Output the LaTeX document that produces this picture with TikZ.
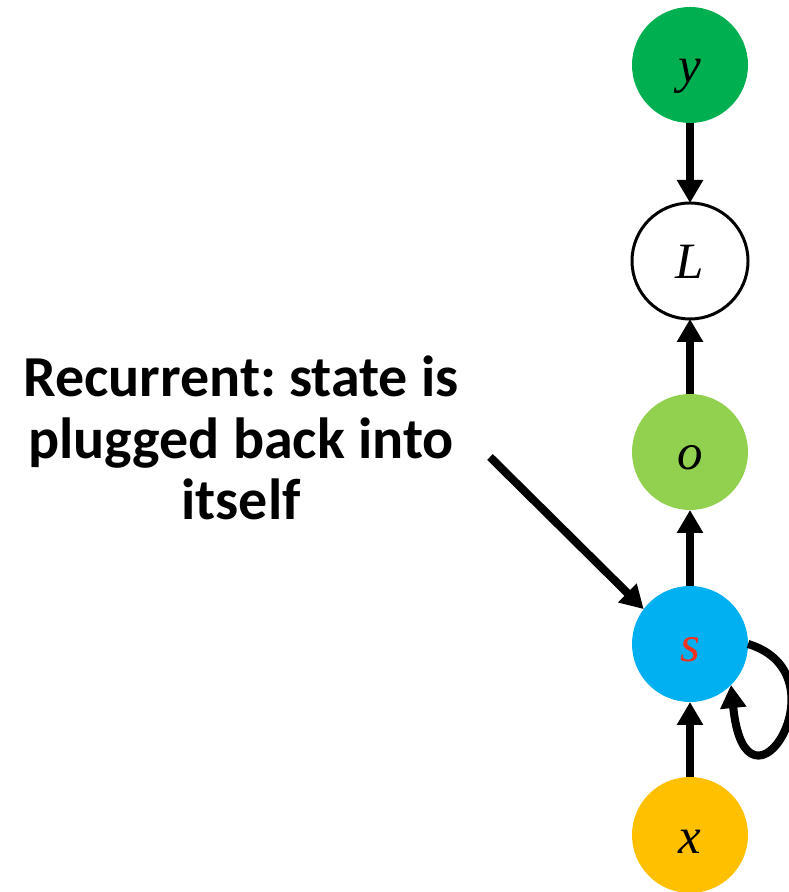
\documentclass[tikz,border=0pt]{standalone}
\usepackage{fontspec}
\setmainfont{Carlito}
\newfontfamily\varfont{Liberation Serif}
\usetikzlibrary{arrows.meta}
\frenchspacing

\definecolor{ygreen}{HTML}{00B050}
\definecolor{ogreen}{HTML}{92D050}
\definecolor{sblue}{HTML}{00B0F0}
\definecolor{xorange}{HTML}{FFC000}
\definecolor{sred}{HTML}{F0321E}

\begin{document}
\begin{tikzpicture}[
		var/.style={circle, minimum size=1.16cm, inner sep=0pt, outer sep=0pt,
			text height=3.6mm, text depth=0pt,
			font=\varfont\itshape\fontsize{14.5}{16}\selectfont},
		link/.style={line width=2.3pt, -{Triangle[width=2.5mm,length=2.3mm]}}]
		\useasboundingbox (0,0) rectangle (7.89,8.92);
		
		\node[var, fill=ygreen] (y) at (6.90,8.27) {y};
		\node[var, draw, line width=0.85pt, fill=white] (L) at (6.90,6.31) {L};
		\node[var, fill=ogreen] (o) at (6.90,4.40) {o};
		\node[var, fill=sblue, text=sred] (s) at (6.90,2.48) {s};
		\node[var, fill=xorange] (x) at (6.90,0.57) {x};
		
		\draw[link] (y) -- (L);
		\draw[link] (o) -- (L);
		\draw[link] (s) -- (o);
		\draw[link] (x) -- (s);
		\draw[link] (s.east) .. controls +(1.0,-0.3) and +(0.15,-1.5) .. (s.-45);
		
		\node[font=\bfseries\fontsize{16.5}{17.4}\selectfont, align=center, inner sep=0pt] (note) at (2.41,4.54)
			{Recurrent: state is\\plugged back into\\itself};
		\coordinate (tail) at (4.90,4.35);
		\draw[link] (tail) -- (s.143);
\end{tikzpicture}
\end{document}
